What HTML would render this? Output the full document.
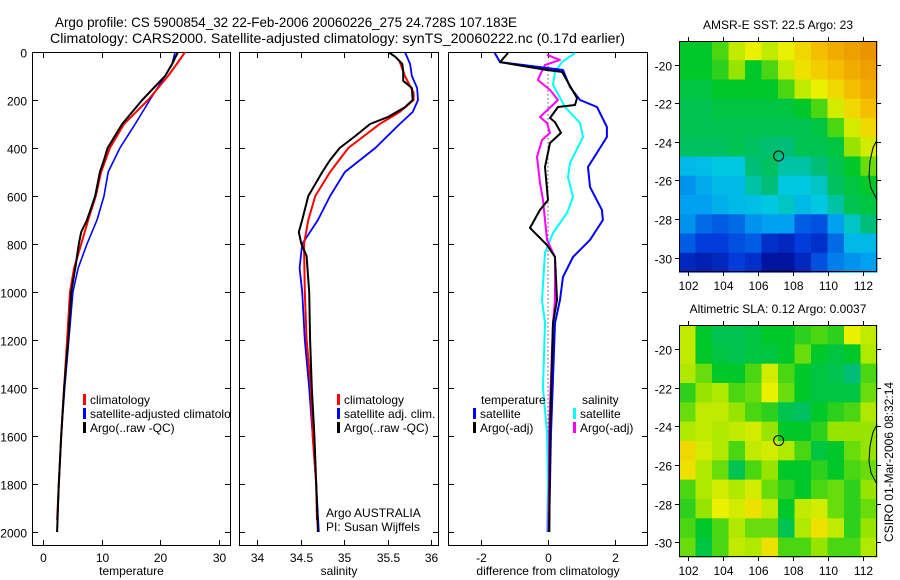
<!DOCTYPE html>
<html><head><meta charset="utf-8"><style>
html,body{margin:0;padding:0;background:#fff;}
svg{display:block;font-family:"Liberation Sans",sans-serif;}
</style></head><body>
<svg id="fig" width="900" height="580" viewBox="0 0 900 580">
<text x="55" y="27" font-size="14" textLength="462" lengthAdjust="spacingAndGlyphs">Argo profile: CS 5900854_32 22-Feb-2006 20060226_275 24.728S 107.183E</text>
<text x="50" y="43" font-size="14" textLength="575" lengthAdjust="spacingAndGlyphs">Climatology: CARS2000. Satellite-adjusted climatology: synTS_20060222.nc (0.17d earlier)</text>
<g id="plots"></g>
</svg>
<script>
// ---------- data ----------
const depthTicks = [0,200,400,600,800,1000,1200,1400,1600,1800,2000];
const tempTicks = [0,10,20,30];
const salTicks = [34,34.5,35,35.5,36];
const diffTicks = [-2,0,2];

const tClimDepth = [0,50,100,200,300,400,500,600,700,800,900,1000,1200,1400,1600,1800,1950];
const tClimVal   = [24.2,22.8,21.3,17.9,13.8,11.4,9.9,9.0,7.7,6.5,5.3,4.6,4.1,3.6,3.1,2.7,2.4];
const tSatDepth  = [0,50,100,200,300,400,500,600,700,800,900,1000,1200,1400,1600,1800,2000];
const tSatVal    = [22.5,22.0,20.8,18.2,15.7,13.1,11.1,10.4,9.2,7.5,6.0,5.1,4.4,3.7,3.1,2.7,2.4];
const tArgoDepth = [0,50,100,200,250,300,400,450,500,600,700,750,800,900,1000,1200,1400,1600,1800,2000];
const tArgoVal   = [23.0,22.0,20.8,16.9,15.2,13.5,11.0,10.4,9.7,8.9,7.5,6.5,6.1,5.5,4.8,4.3,3.6,3.1,2.7,2.4];

const sClimDepth = [40,100,170,200,250,300,400,500,600,700,800,1000,1200,1400,1600,1800,1950];
const sClimVal   = [35.64,35.70,35.80,35.80,35.64,35.41,35.05,34.84,34.67,34.59,34.54,34.55,34.57,34.62,34.64,34.68,34.69];
const sSatDepth  = [0,50,100,150,200,250,300,400,500,600,700,800,900,1000,1200,1400,1600,1800,2000];
const sSatVal    = [35.70,35.76,35.78,35.84,35.85,35.79,35.64,35.36,35.01,34.84,34.70,34.52,34.49,34.52,34.55,34.60,34.64,34.68,34.71];
const sArgoDepth = [0,20,50,80,120,150,200,230,270,300,350,400,450,500,600,700,750,800,850,1000,1200,1400,1600,1800,2000];
const sArgoVal   = [35.51,35.59,35.67,35.68,35.68,35.78,35.79,35.70,35.51,35.30,35.13,34.95,34.84,34.75,34.59,34.52,34.48,34.51,34.57,34.60,34.61,34.63,34.66,34.68,34.70];

const dTSatDepth = [4,42,75,146,200,229,312,354,479,562,658,700,783,854,937,1033,1129,1587,2000];
const dTSatVal   = [-1.6,-1.44,0.45,0.66,0.96,1.47,1.77,1.77,1.2,1.26,1.62,1.65,1.26,0.75,0.45,0.36,0.21,0.09,0.03];
const dTArgoDepth = [4,42,75,83,192,221,229,275,292,337,379,479,617,658,733,804,854,1033,1129,1587,2000];
const dTArgoVal   = [-1.2,-1.44,-0.03,0.42,0.87,0.81,0.3,0.06,0.21,0.39,0.06,-0.09,0,-0.24,-0.54,-0.03,0.21,0.27,0.15,0.06,0.04];
const dSSatDepth = [4,42,83,137,229,296,354,462,521,604,671,754,837,1033,1129,1400,1587,1800,2000];
const dSSatVal   = [0.81,0.42,0.21,0.15,0.51,0.96,1.05,0.66,0.6,0.75,0.57,0.15,-0.09,-0.18,-0.09,-0.15,-0.03,0,-0.03];
const dSArgoDepth = [12,33,54,96,117,158,200,271,296,337,367,437,546,617,783,854,1033,1129,1587,1800,2000];
const dSArgoVal   = [-0.03,0.36,-0.09,-0.24,-0.3,0.06,0.3,-0.24,-0.03,0.06,-0.18,-0.33,-0.24,-0.15,-0.03,0.21,0.21,0.15,0.03,0.03,0];

const lonTicks = [102,104,106,108,110,112];
const latTicks = [-20,-22,-24,-26,-28,-30];
const sstGrid = [
[0.55,0.55,0.6,0.7,0.75,0.7,0.75,0.8,0.85,0.88,0.9,0.92],
[0.55,0.55,0.58,0.65,0.55,0.6,0.7,0.78,0.82,0.85,0.88,0.9],
[0.52,0.52,0.55,0.55,0.55,0.55,0.6,0.7,0.75,0.8,0.85,0.88],
[0.5,0.5,0.52,0.52,0.52,0.52,0.52,0.55,0.6,0.72,0.8,0.85],
[0.5,0.5,0.5,0.5,0.5,0.5,0.5,0.5,0.52,0.6,0.72,0.8],
[0.48,0.48,0.48,0.5,0.48,0.46,0.45,0.5,0.5,0.52,0.65,0.72],
[0.35,0.36,0.38,0.38,0.45,0.48,0.42,0.42,0.45,0.5,0.55,0.62],
[0.28,0.32,0.35,0.35,0.42,0.45,0.38,0.38,0.4,0.48,0.52,0.55],
[0.3,0.3,0.33,0.35,0.36,0.38,0.4,0.35,0.38,0.42,0.5,0.52],
[0.28,0.22,0.2,0.22,0.28,0.3,0.3,0.2,0.18,0.3,0.4,0.45],
[0.2,0.15,0.15,0.18,0.2,0.12,0.1,0.15,0.12,0.22,0.35,0.35],
[0.1,0.08,0.1,0.15,0.12,0.05,0.05,0.1,0.18,0.25,0.28,0.3]];
const slaGrid = [
[0.7,0.55,0.5,0.5,0.52,0.55,0.55,0.58,0.6,0.58,0.75,0.7],
[0.7,0.55,0.52,0.5,0.52,0.52,0.55,0.62,0.55,0.52,0.55,0.68],
[0.68,0.62,0.55,0.55,0.6,0.72,0.6,0.55,0.52,0.5,0.45,0.6],
[0.58,0.65,0.68,0.6,0.62,0.75,0.62,0.55,0.52,0.52,0.52,0.62],
[0.62,0.7,0.7,0.65,0.6,0.58,0.5,0.48,0.55,0.58,0.6,0.68],
[0.68,0.7,0.68,0.7,0.72,0.65,0.55,0.55,0.58,0.65,0.65,0.65],
[0.8,0.72,0.68,0.6,0.7,0.72,0.68,0.6,0.52,0.55,0.62,0.65],
[0.78,0.68,0.62,0.5,0.6,0.65,0.55,0.55,0.58,0.55,0.6,0.62],
[0.6,0.68,0.72,0.68,0.72,0.62,0.58,0.55,0.6,0.62,0.58,0.65],
[0.58,0.65,0.75,0.72,0.78,0.7,0.55,0.7,0.72,0.62,0.58,0.62],
[0.6,0.55,0.6,0.68,0.62,0.62,0.5,0.68,0.78,0.7,0.58,0.65],
[0.62,0.52,0.6,0.7,0.68,0.78,0.6,0.6,0.65,0.6,0.6,0.68]];
const floatLon = 107.183, floatLat = -24.728;

// ---------- drawing ----------
const NS='http://www.w3.org/2000/svg';
const root=document.getElementById('plots');
function mk(tag,attrs,parent){const e=document.createElementNS(NS,tag);for(const k in attrs)e.setAttribute(k,attrs[k]);(parent||root).appendChild(e);return e;}
function txt(s,attrs,parent){const e=mk('text',attrs,parent);e.textContent=s;return e;}

const Y0=52, YS=0.24, PT=52, PB=546;
const yD=d=>Y0+d*YS;
const panels=[
 {name:'temperature',l:32,r:231,x:v=>43+v*5.87,ticks:tempTicks,label:'temperature'},
 {name:'salinity',l:239,r:439,x:v=>257+(v-34)*87,ticks:salTicks,label:'salinity'},
 {name:'difference',l:448,r:648,x:v=>548+v*33.3,ticks:diffTicks,label:'difference from climatology'}];

panels.forEach((p,i)=>{
  const g=mk('g',{});
  
  
  const cp=mk('clipPath',{id:'cp'+i},g);
  mk('rect',{x:p.l,y:PT,width:p.r-p.l,height:PB-PT},cp);
  const fr=mk('rect',{x:p.l+0.5,y:PT+0.5,width:p.r-p.l-1,height:PB-PT-1,fill:'none',stroke:'#000','stroke-width':1},g);
  
  
  depthTicks.forEach(d=>{
    const y=Math.round(yD(d))+0.5;
    mk('line',{x1:p.l,x2:p.l+6,y1:y,y2:y,stroke:'#000'},g);
    mk('line',{x1:p.r-6,x2:p.r,y1:y,y2:y,stroke:'#000'},g);
    if(i===0){const t=txt(String(d),{x:27,y:y+5,'font-size':12,'text-anchor':'end'},g);
      }
  });
  p.ticks.forEach(v=>{
    const x=Math.round(p.x(v))+0.5;
    mk('line',{x1:x,x2:x,y1:PB-6,y2:PB,stroke:'#000'},g);
    mk('line',{x1:x,x2:x,y1:PT,y2:PT+6,stroke:'#000'},g);
    const t=txt(String(v),{x:x,y:PB+16,'font-size':12,'text-anchor':'middle'},g);
    
  });
  const xl=txt(p.label,{x:(p.l+p.r)/2,y:PB+29,'font-size':12,'text-anchor':'middle'},g);
  
  p.g=g;
});

function line(pi,depths,vals,color,name,w){
  const p=panels[pi];
  const pts=depths.map((d,k)=>p.x(vals[k]).toFixed(1)+','+yD(d).toFixed(1)).join(' ');
  const e=mk('polyline',{points:pts,fill:'none',stroke:color,'stroke-width':w||2,'clip-path':'url(#cp'+pi+')','stroke-linejoin':'round'},p.g);
  
  
}
// dotted zero line
{const z=mk('line',{x1:panels[2].x(0),x2:panels[2].x(0),y1:yD(60),y2:yD(2000),stroke:'#000','stroke-dasharray':'1,3'},panels[2].g);
 }
line(0,tSatDepth,tSatVal,'#0000ff','temp-satellite-line',1.6);
line(0,tClimDepth,tClimVal,'#ff0000','temp-climatology-line');
line(0,tArgoDepth,tArgoVal,'#000000','temp-argo-line');
line(1,sSatDepth,sSatVal,'#0000ff','sal-satellite-line',1.8);
line(1,sClimDepth,sClimVal,'#ff0000','sal-climatology-line');
line(1,sArgoDepth,sArgoVal,'#000000','sal-argo-line');
line(2,dSSatDepth,dSSatVal,'#00ffff','diff-sal-satellite-line');
line(2,dSArgoDepth,dSArgoVal,'#ff00ff','diff-sal-argo-line');
line(2,dTSatDepth,dTSatVal,'#0000ff','diff-temp-satellite-line');
line(2,dTArgoDepth,dTArgoVal,'#000000','diff-temp-argo-line');

function legend(pi,x,y,color,label){
  const g=mk('g',{},panels[pi].g);
  
  
  if(color) mk('rect',{x:x,y:y-9,width:3,height:11,fill:color},g);
  txt(label,{x:x+7,y:y+1,'font-size':12,'clip-path':'url(#cp'+pi+')'},g);
}
legend(0,83,403,'#ff0000','climatology');
legend(0,83,417,'#0000ff','satellite-adjusted climatology');
legend(0,83,431,'#000000','Argo(..raw -QC)');
legend(1,337,403,'#ff0000','climatology');
legend(1,337,417,'#0000ff','satellite adj. clim.');
legend(1,337,431,'#000000','Argo(..raw -QC)');
legend(2,474,403,null,'temperature');
legend(2,473,417,'#0000ff','satellite');
legend(2,473,431,'#000000','Argo(-adj)');
legend(2,575,403,null,'salinity');
legend(2,573,417,'#00ffff','satellite');
legend(2,573,431,'#ff00ff','Argo(-adj)');
{const a=txt('Argo AUSTRALIA',{x:326,y:517,'font-size':12},panels[1].g);
 const b=txt('PI: Susan Wijffels',{x:326,y:531,'font-size':12},panels[1].g);}

// colormap
const stops=[[0,[0,0,130]],[0.15,[0,60,220]],[0.3,[0,160,240]],[0.38,[0,200,225]],[0.45,[0,190,120]],[0.55,[0,200,40]],[0.65,[150,228,0]],[0.75,[235,240,0]],[0.85,[245,190,0]],[0.95,[230,130,0]],[1,[220,100,0]]];
function cmap(v){for(let k=1;k<stops.length;k++){if(v<=stops[k][0]){const a=stops[k-1],b=stops[k],t=(v-a[0])/(b[0]-a[0]);return 'rgb('+a[1].map((c,j)=>Math.round(c+(b[1][j]-c)*t)).join(',')+')';}}return 'rgb(220,100,0)';}

function map(name,top,bot,grid,title){
  const L=679,R=877,lon0=101.49,lon1=112.8,lat0=-18.76,lat1=-30.75;
  const X=lo=>L+(lo-lon0)/(lon1-lon0)*(R-L), Y=la=>top+(la-lat0)/(lat1-lat0)*(bot-top);
  const g=mk('g',{});
  
  
  const rows=grid.length,cols=grid[0].length,cw=(R-L)/cols,ch=(bot-top)/rows;
  grid.forEach((row,r)=>row.forEach((v,c)=>{
    const e=mk('rect',{x:(L+c*cw).toFixed(2),y:(top+r*ch).toFixed(2),width:(cw+0.6).toFixed(2),height:(ch+0.6).toFixed(2),fill:cmap(v)},g);
    
    
  }));
  const coast=mk('path',{d:`M${R} ${Y(-23.9)} L${R-4} ${Y(-24.3)} L${R-7} ${Y(-25.0)} L${R-8} ${Y(-25.8)} L${R-6} ${Y(-26.4)} L${R} ${Y(-27.0)}`,fill:'none',stroke:'#000','stroke-width':1},g);
  
  const fr=mk('rect',{x:L+0.5,y:top+0.5,width:R-L-1,height:bot-top-1,fill:'none',stroke:'#000'},g);
  
  lonTicks.forEach(lo=>{const x=Math.round(X(lo))+0.5;
    mk('line',{x1:x,x2:x,y1:top-4,y2:top,stroke:'#000'},g);
    mk('line',{x1:x,x2:x,y1:bot,y2:bot+4,stroke:'#000'},g);
    const t=txt(String(lo),{x:x,y:bot+18,'font-size':12,'text-anchor':'middle'},g);
    });
  latTicks.forEach(la=>{const y=Math.round(Y(la))+0.5;
    mk('line',{x1:L-4,x2:L,y1:y,y2:y,stroke:'#000'},g);
    mk('line',{x1:R,x2:R+4,y1:y,y2:y,stroke:'#000'},g);
    const t=txt(String(la),{x:672,y:y+5,'font-size':12,'text-anchor':'end'},g);
    });
  const c=mk('circle',{cx:X(floatLon),cy:Y(floatLat),r:5,fill:'none',stroke:'#000'},g);
  
  const t=txt(title,{x:778,y:top-12,'font-size':12,'text-anchor':'middle'},g);
  
}
map('sst-map',41,272,sstGrid,'AMSR-E SST: 22.5  Argo: 23');
map('sla-map',325,557,slaGrid,'Altimetric SLA: 0.12  Argo: 0.0037');
{const t=txt('CSIRO 01-Mar-2006 08:32:14',{x:0,y:0,'font-size':12,'text-anchor':'middle',transform:'translate(893,462) rotate(-90)'});
 }
</script>
</body></html>
